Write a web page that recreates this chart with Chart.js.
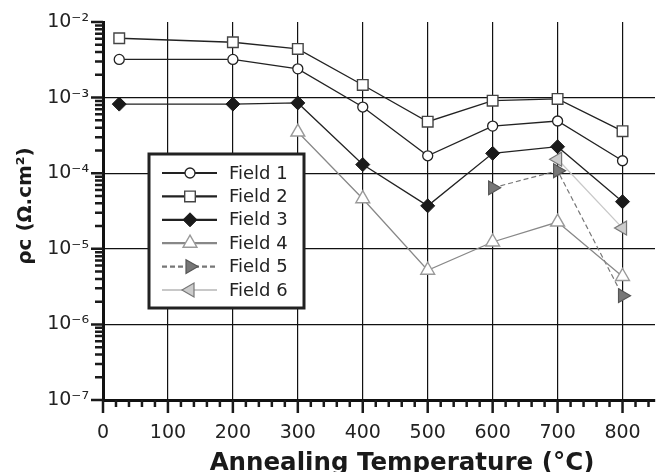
<!DOCTYPE html>
<html>
<head>
<meta charset="utf-8">
<script src="https://cdn.jsdelivr.net/npm/chart.js@4/dist/chart.umd.min.js"></script>
<style>
  body { margin: 0; background: #fff; }
  #wrap { width: 659px; height: 472px; position: relative; }
</style>
</head>
<body>
<div id="wrap"><canvas id="rhoChart"></canvas></div>
<script>
// data
const labels = ['Field 1', 'Field 2', 'Field 3', 'Field 4', 'Field 5', 'Field 6'];
const tempsA = [25, 200, 300, 400, 500, 600, 700, 800];
const tempsB = [300, 400, 500, 600, 700, 800];
const tempsC = [600, 700, 800];
const tempsD = [700, 800];

const field1 = [3.2e-3, 3.2e-3, 2.4e-3, 7.5e-4, 1.7e-4, 4.2e-4, 4.9e-4, 1.46e-4];
const field2 = [6.1e-3, 5.4e-3, 4.4e-3, 1.47e-3, 4.8e-4, 9.1e-4, 9.6e-4, 3.6e-4];
const field3 = [8.2e-4, 8.2e-4, 8.5e-4, 1.3e-4, 3.7e-5, 1.83e-4, 2.24e-4, 4.2e-5];
const field4 = [3.5e-4, 4.6e-5, 5.2e-6, 1.23e-5, 2.26e-5, 4.3e-6];
const field5 = [6.4e-5, 1.08e-4, 2.4e-6];
const field6 = [1.53e-4, 1.88e-5];

const xTicks = [0, 100, 200, 300, 400, 500, 600, 700, 800];
const yTicks = [1e-7, 1e-6, 1e-5, 1e-4, 1e-3, 1e-2];

const xTitle = 'Annealing Temperature (°C)';
const yTitle = 'ρc (Ω.cm²)';

function pairs(xs, ys) {
    return xs.map((x, i) => ({ x: x, y: ys[i] }));
}

const sup = { '-': '⁻', '0': '⁰', '1': '¹', '2': '²', '3': '³', '4': '⁴', '5': '⁵', '6': '⁶', '7': '⁷', '8': '⁸', '9': '⁹' };
function powLabel(v) {
    const e = String(Math.round(Math.log10(v)));
    return '10' + e.split('').map(c => sup[c]).join('');
}

// minor ticks, thick tick marks and the axis titles
const axisTicks = {
    id: 'axisTicks',
    afterDraw(chart) {
        const ctx = chart.ctx, area = chart.chartArea;
        const xs = chart.scales.x, ys = chart.scales.y;
        ctx.save();
        ctx.strokeStyle = '#1a1a1a';
        ctx.lineWidth = 2.5;
        ctx.beginPath();
        for (let v = 0; v <= 850; v += 20) {
            const px = xs.getPixelForValue(v);
            const len = v % 100 === 0 ? 13 : 7;
            ctx.moveTo(px, area.bottom);
            ctx.lineTo(px, area.bottom + len);
        }
        for (let i = 0; i < yTicks.length; i++) {
            const d = yTicks[i];
            let py = ys.getPixelForValue(d);
            ctx.moveTo(area.left, py);
            ctx.lineTo(area.left - 12, py);
            if (i === yTicks.length - 1) break;
            for (let m = 2; m <= 9; m++) {
                py = ys.getPixelForValue(d * m);
                ctx.moveTo(area.left, py);
                ctx.lineTo(area.left - 8, py);
            }
        }
        ctx.stroke();

        ctx.fillStyle = '#1a1a1a';
        ctx.font = 'bold 24.5px "DejaVu Sans"';
        ctx.textAlign = 'center';
        ctx.textBaseline = 'alphabetic';
        ctx.fillText(xTitle, area.left + 299, 470);

        ctx.font = 'bold 20px "DejaVu Sans"';
        ctx.textBaseline = 'middle';
        ctx.translate(26, area.top + 184);
        ctx.rotate(-Math.PI / 2);
        ctx.fillText(yTitle, 0, 0);
        ctx.restore();
    }
};

// boxed legend inside the plot area
const boxLegend = {
    id: 'boxLegend',
    afterDraw(chart) {
        const ctx = chart.ctx, area = chart.chartArea;
        const left = area.left + 46, top = area.top + 132, w = 155, h = 154;
        ctx.save();
        ctx.fillStyle = '#fff';
        ctx.fillRect(left, top, w, h);
        ctx.lineWidth = 3;
        ctx.strokeStyle = '#222';
        ctx.strokeRect(left, top, w, h);
        ctx.font = '18px "DejaVu Sans"';
        ctx.textBaseline = 'middle';
        chart.data.datasets.forEach((ds, i) => {
            const y = top + 19 + i * 23.4;
            ctx.save();
            ctx.strokeStyle = ds.borderColor;
            ctx.lineWidth = 2.2;
            ctx.setLineDash(ds.borderDash || []);
            ctx.beginPath();
            ctx.moveTo(left + 13, y);
            ctx.lineTo(left + 68, y);
            ctx.stroke();
            ctx.restore();
            ctx.fillStyle = ds.pointBackgroundColor;
            ctx.strokeStyle = ds.pointBorderColor;
            ctx.lineWidth = ds.pointBorderWidth;
            Chart.helpers.drawPoint(ctx, {
                pointStyle: ds.pointStyle,
                rotation: ds.pointRotation || 0,
                radius: ds.pointRadius,
                borderWidth: ds.pointBorderWidth
            }, left + 41, y);
            ctx.fillStyle = '#222';
            ctx.fillText(ds.label, left + 80, y + 1);
        });
        ctx.restore();
    }
};

const datasets = [
    { label: labels[0], data: pairs(tempsA, field1), borderColor: '#222', borderWidth: 1.3,
      pointStyle: 'circle', pointRadius: 5, pointBackgroundColor: '#fff', pointBorderColor: '#222', pointBorderWidth: 1.3 },
    { label: labels[1], data: pairs(tempsA, field2), borderColor: '#222', borderWidth: 1.3,
      pointStyle: 'rect', pointRadius: 7.5, pointBackgroundColor: '#fff', pointBorderColor: '#444', pointBorderWidth: 1.4 },
    { label: labels[2], data: pairs(tempsA, field3), borderColor: '#222', borderWidth: 1.3,
      pointStyle: 'rectRot', pointRadius: 7, pointBackgroundColor: '#1a1a1a', pointBorderColor: '#1a1a1a', pointBorderWidth: 1 },
    { label: labels[3], data: pairs(tempsB, field4), borderColor: '#888', borderWidth: 1.3,
      pointStyle: 'triangle', pointRadius: 8, pointBackgroundColor: '#fff', pointBorderColor: '#999', pointBorderWidth: 1.4 },
    { label: labels[4], data: pairs(tempsC, field5), borderColor: '#777', borderWidth: 1.2, borderDash: [5, 3],
      pointStyle: 'triangle', pointRotation: 90, pointRadius: 8, pointBackgroundColor: '#777', pointBorderColor: '#555', pointBorderWidth: 1.2 },
    { label: labels[5], data: pairs(tempsD, field6), borderColor: '#c8c8c8', borderWidth: 1.3,
      pointStyle: 'triangle', pointRotation: -90, pointRadius: 8, pointBackgroundColor: '#ccc', pointBorderColor: '#777', pointBorderWidth: 1.2 }
];

new Chart(document.getElementById('rhoChart'), {
    type: 'line',
    data: { datasets: datasets },
    options: {
        responsive: true,
        maintainAspectRatio: false,
        animation: false,
        layout: { padding: { top: 22, right: 4, left: 0, bottom: 0 }, autoPadding: false },
        plugins: { legend: { display: false }, tooltip: { enabled: false } },
        scales: {
            x: {
                type: 'linear', min: 0, max: 850,
                afterBuildTicks: s => { s.ticks = xTicks.map(v => ({ value: v })); },
                afterFit: s => { s.height = 72; s.paddingLeft = 0; s.paddingRight = 0; },
                grid: { color: '#111', lineWidth: 1.2, drawTicks: false },
                border: { display: true, color: '#111', width: 3 },
                ticks: { color: '#222', padding: 22, font: { family: 'DejaVu Sans', size: 19 }, maxRotation: 0 }
            },
            y: {
                type: 'logarithmic', min: 1e-7, max: 1e-2,
                afterBuildTicks: s => { s.ticks = yTicks.map(v => ({ value: v })); },
                afterFit: s => { s.width = 103; s.paddingTop = 0; s.paddingBottom = 0; },
                grid: {
                    color: c => (c.tick && c.tick.value === 1e-2) ? 'rgba(0,0,0,0)' : '#111',
                    lineWidth: 1.2, drawTicks: false
                },
                border: { display: true, color: '#111', width: 3 },
                ticks: { color: '#222', padding: 14, font: { family: 'DejaVu Sans', size: 19 }, callback: v => powLabel(v) }
            }
        }
    },
    plugins: [axisTicks, boxLegend]
});
</script>
</body>
</html>
